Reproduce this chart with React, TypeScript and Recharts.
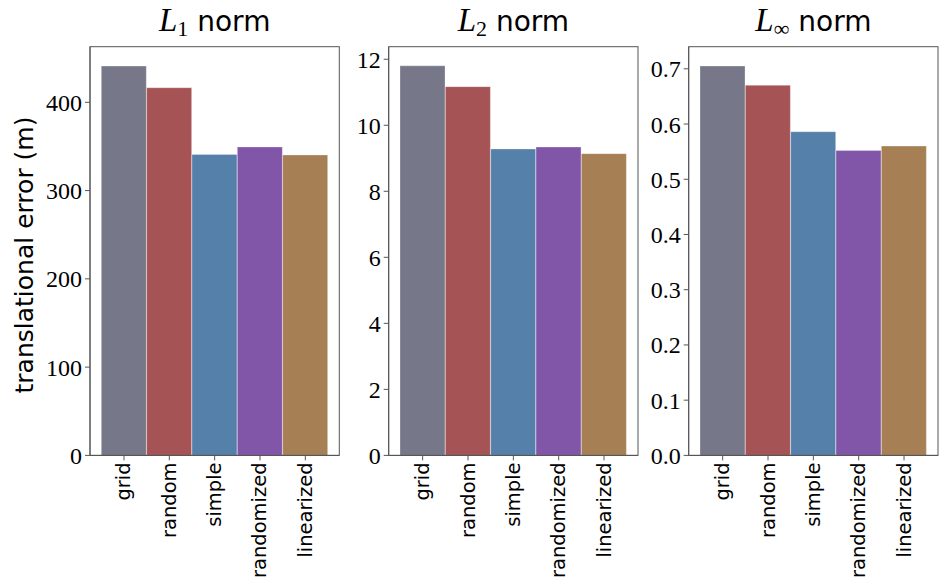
import { BarChart, Bar, XAxis, YAxis, Cell } from "recharts";

const methods = ["grid", "random", "simple", "randomized", "linearized"];
const barColors = ["#767889", "#a65355", "#5580aa", "#8156a9", "#a67f55"];

const l1Errors = [441, 416.5, 341, 349.4, 340.3];
const l2Errors = [11.8, 11.17, 9.28, 9.34, 9.14];
const lInfErrors = [0.705, 0.67, 0.586, 0.552, 0.56];

const l1Ticks = [0, 100, 200, 300, 400];
const l2Ticks = [0, 2, 4, 6, 8, 10, 12];
const lInfTicks = [0, 0.1, 0.2, 0.3, 0.4, 0.5, 0.6, 0.7];

const AXIS = "#555";
const H = 583;
const PLOT_TOP = 46.7;
const PLOT_BOTTOM = 455.4;

function RotTick(props: any) {
  const { x, y, payload } = props;
  return (
    <text
      x={x}
      y={y}
      transform={`rotate(-90 ${x} ${y})`}
      textAnchor="end"
      dominantBaseline="central"
      fontFamily="DejaVu Sans"
      fontSize={19.5}
      fill="#000"
    >
      {payload.value}
    </text>
  );
}

type PanelProps = {
  left: number;
  width: number;
  yWidth: number;
  rightMargin: number;
  values: number[];
  domain: [number, number];
  ticks: number[];
  fmt?: (v: number) => string;
};

function Panel({ left, width, yWidth, rightMargin, values, domain, ticks, fmt }: PanelProps) {
  const data = methods.map((m, i) => ({ method: m, value: values[i] }));
  const plotW = width - yWidth - rightMargin;
  return (
    <div style={{ position: "absolute", left, top: 0 }}>
      <BarChart
        width={width}
        height={H}
        data={data}
        margin={{ top: PLOT_TOP, right: rightMargin, bottom: 0, left: 0 }}
        barCategoryGap={0}
      >
        <XAxis
          dataKey="method"
          height={H - PLOT_BOTTOM}
          padding={{ left: 11.3, right: 11.3 }}
          interval={0}
          tick={<RotTick />}
          tickSize={5}
          tickMargin={2}
          stroke={AXIS}
        />
        <YAxis
          width={yWidth}
          domain={domain}
          ticks={ticks}
          interval={0}
          allowDataOverflow
          tickFormatter={fmt}
          tickSize={5}
          tickMargin={3}
          stroke={AXIS}
          tick={{ fill: "#000", fontFamily: "Liberation Serif", fontSize: 24 }}
        />
        <Bar dataKey="value" isAnimationActive={false} stroke="#fff" strokeOpacity={0.35} strokeWidth={0.8}>
          {data.map((d, i) => (
            <Cell key={d.method} fill={barColors[i]} />
          ))}
        </Bar>
      </BarChart>
      {/* top and right spines of the frame */}
      <svg width={width} height={H} style={{ position: "absolute", left: 0, top: 0, pointerEvents: "none" }}>
        <rect x={yWidth} y={PLOT_TOP} width={plotW} height={PLOT_BOTTOM - PLOT_TOP} fill="none" stroke={AXIS} strokeWidth={1} />
      </svg>
    </div>
  );
}

function Title({ x, sub }: { x: number; sub: string }) {
  return (
    <text x={x} y={31} textAnchor="middle" fill="#000">
      <tspan fontFamily="Liberation Serif" fontStyle="italic" fontSize={33}>L</tspan>
      <tspan fontFamily="Liberation Serif" fontSize={22} dy={5}>{sub}</tspan>
      <tspan fontFamily="DejaVu Sans" fontSize={28} dy={-5}>{" norm"}</tspan>
    </text>
  );
}

export default function App() {
  return (
    <div style={{ position: "absolute", left: 0, top: 0, width: 947, height: H, background: "#fff" }}>
      <Panel left={0} width={350} yWidth={90} rightMargin={10.7} values={l1Errors} domain={[0, 463]} ticks={l1Ticks} />
      <Panel left={340} width={310} yWidth={48.7} rightMargin={12} values={l2Errors} domain={[0, 12.38]} ticks={l2Ticks} />
      <Panel
        left={640}
        width={307}
        yWidth={48.7}
        rightMargin={9}
        values={lInfErrors}
        domain={[0, 0.74]}
        ticks={lInfTicks}
        fmt={(v) => v.toFixed(1)}
      />
      <svg width={947} height={H} style={{ position: "absolute", left: 0, top: 0, pointerEvents: "none" }}>
        <Title x={214.7} sub="1" />
        <Title x={513.4} sub="2" />
        <Title x={813.4} sub="∞" />
        <text
          x={24}
          y={255}
          transform="rotate(-90 24 255)"
          textAnchor="middle"
          dominantBaseline="central"
          fontFamily="DejaVu Sans"
          fontSize={25}
          fill="#000"
        >
          translational error (m)
        </text>
      </svg>
    </div>
  );
}
